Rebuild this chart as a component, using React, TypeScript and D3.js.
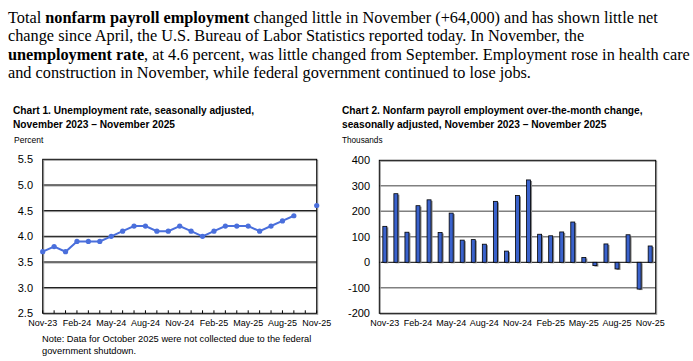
import React from 'react';
import * as d3 from 'd3';

const width = 693;
const height = 361;

const months = [
  'Nov-23', 'Dec-23', 'Jan-24', 'Feb-24', 'Mar-24', 'Apr-24', 'May-24', 'Jun-24', 'Jul-24',
  'Aug-24', 'Sep-24', 'Oct-24', 'Nov-24', 'Dec-24', 'Jan-25', 'Feb-25', 'Mar-25', 'Apr-25',
  'May-25', 'Jun-25', 'Jul-25', 'Aug-25', 'Sep-25', 'Oct-25', 'Nov-25'
];
const labelledMonths = ['Nov-23', 'Feb-24', 'May-24', 'Aug-24', 'Nov-24', 'Feb-25', 'May-25', 'Aug-25', 'Nov-25'];

// unemployment rate, percent (October 2025 not collected)
const unemploymentRate = [
  3.7, 3.8, 3.7, 3.9, 3.9, 3.9, 4.0, 4.1, 4.2, 4.2, 4.1, 4.1, 4.2,
  4.1, 4.0, 4.1, 4.2, 4.2, 4.2, 4.1, 4.2, 4.3, 4.4, null, 4.6
];
// payroll change, thousands
const payrollChange = [
  141, 269, 118, 222, 245, 117, 193, 87, 89, 71, 239, 44, 262,
  323, 110, 104, 119, 158, 19, -13, 72, -26, 108, -105, 64
];

const rateTicks = [2.5, 3.0, 3.5, 4.0, 4.5, 5.0, 5.5];
const payrollTicks = [-200, -100, 0, 100, 200, 300, 400];

const paragraph = [
  [['Total ', false], ['nonfarm payroll employment', true], [' changed little in November (+64,000) and has shown little net', false]],
  [['change since April, the U.S. Bureau of Labor Statistics reported today. In November, the', false]],
  [['unemployment rate', true], [', at 4.6 percent, was little changed from September. Employment rose in health care', false]],
  [['and construction in November, while federal government continued to lose jobs.', false]]
] as [string, boolean][][];

const sans = '"Liberation Sans", Arial, sans-serif';
const serif = '"Liberation Serif", "Times New Roman", serif';
const lineBlue = '#4a6fdc';
const barBlue = '#3a62cc';

const p1 = { left: 42.7, right: 316.7, top: 159.3, bottom: 313.3 };
const p2 = { left: 379.3, right: 655.7, top: 160.3, bottom: 313.3 };

function Chart1() {
  const x = d3.scaleLinear().domain([0, months.length - 1]).range([p1.left, p1.right]);
  const y = d3.scaleLinear().domain([2.5, 5.5]).range([p1.bottom, p1.top]);
  const pts = unemploymentRate.map((v, i) => ({ i, v }));
  const line = d3
    .line<{ i: number; v: number | null }>()
    .defined(d => d.v !== null)
    .x(d => x(d.i))
    .y(d => y(d.v as number));
  return (
    <g>
      <text x={13} y={114} fontFamily={sans} fontSize={10.2} fontWeight="bold">
        Chart 1. Unemployment rate, seasonally adjusted,
      </text>
      <text x={13} y={127.5} fontFamily={sans} fontSize={10.2} fontWeight="bold">
        November 2023 – November 2025
      </text>
      <text x={14} y={143} fontFamily={sans} fontSize={8.5}>Percent</text>
      {rateTicks.slice(1, -1).map(t => (
        <g key={t}>
          <line x1={p1.left} x2={p1.right} y1={y(t) + 1} y2={y(t) + 1} stroke="#999" />
          <line x1={p1.left} x2={p1.right} y1={y(t)} y2={y(t)} stroke="#000" />
        </g>
      ))}
      <rect x={p1.left + 1} y={p1.top + 1} width={p1.right - p1.left} height={p1.bottom - p1.top} fill="none" stroke="#999" />
      <rect x={p1.left} y={p1.top} width={p1.right - p1.left} height={p1.bottom - p1.top} fill="none" stroke="#000" />
      {months.map((m, i) => (
        <line key={m} x1={x(i)} x2={x(i)} y1={p1.bottom} y2={p1.bottom - 3} stroke="#000" />
      ))}
      {rateTicks.map(t => (
        <text key={t} x={33} y={y(t) + 4} textAnchor="end" fontFamily={sans} fontSize={11}>
          {t.toFixed(1)}
        </text>
      ))}
      {labelledMonths.map(m => (
        <text key={m} x={x(months.indexOf(m))} y={326} textAnchor="middle" fontFamily={sans} fontSize={9}>
          {m}
        </text>
      ))}
      <path d={line(pts) || ''} fill="none" stroke={lineBlue} strokeWidth={2} />
      {pts
        .filter(d => d.v !== null)
        .map(d => (
          <circle key={d.i} cx={x(d.i)} cy={y(d.v as number)} r={2.6} fill={lineBlue} />
        ))}
      <text x={42} y={341.5} fontFamily={sans} fontSize={9.3}>
        Note: Data for October 2025 were not collected due to the federal
      </text>
      <text x={42} y={353.5} fontFamily={sans} fontSize={9.3}>government shutdown.</text>
    </g>
  );
}

function Chart2() {
  const x = d3.scaleBand().domain(months).range([p2.left, p2.right]);
  const y = d3.scaleLinear().domain([-200, 400]).range([p2.bottom, p2.top]);
  const bw = 4;
  return (
    <g>
      <text x={342} y={114} fontFamily={sans} fontSize={10.2} fontWeight="bold">
        Chart 2. Nonfarm payroll employment over-the-month change,
      </text>
      <text x={342} y={127.5} fontFamily={sans} fontSize={10.2} fontWeight="bold">
        seasonally adjusted, November 2023 – November 2025
      </text>
      <text x={342} y={143} fontFamily={sans} fontSize={8.2}>Thousands</text>
      {payrollTicks.slice(1, -1).map(t => (
        <line key={t} x1={p2.left} x2={p2.right} y1={y(t)} y2={y(t)} stroke={t === 0 ? '#000' : '#808080'} strokeWidth={t === 0 ? 1 : 1.5} />
      ))}
      <rect x={p2.left + 1} y={p2.top + 1} width={p2.right - p2.left} height={p2.bottom - p2.top} fill="none" stroke="#999" />
      <rect x={p2.left} y={p2.top} width={p2.right - p2.left} height={p2.bottom - p2.top} fill="none" stroke="#000" />
      {payrollChange.map((v, i) => {
        const cx = (x(months[i]) as number) + x.bandwidth() / 2;
        const top = Math.min(y(v), y(0));
        const h = Math.abs(y(v) - y(0));
        return (
          <g key={months[i]}>
            <rect x={cx - bw / 2 + 1.5} y={top + 1} width={bw} height={h} fill="#888" />
            <rect x={cx - bw / 2} y={top} width={bw} height={h} fill={barBlue} stroke="#000" strokeWidth={0.8} />
          </g>
        );
      })}
      {payrollTicks.map(t => (
        <text key={t} x={370} y={y(t) + 4} textAnchor="end" fontFamily={sans} fontSize={11}>
          {t}
        </text>
      ))}
      {labelledMonths.map(m => (
        <text key={m} x={(x(m) as number) + x.bandwidth() / 2} y={326} textAnchor="middle" fontFamily={sans} fontSize={9}>
          {m}
        </text>
      ))}
    </g>
  );
}

export default function App() {
  return (
    <svg width={width} height={height} style={{ position: 'absolute', left: 0, top: 0, background: '#fff' }}>
      {paragraph.map((parts, li) => (
        <text key={li} x={8} y={23 + li * 18.3} fontFamily={serif} fontSize={16.3}>
          {parts.map(([s, b], k) => (
            <tspan key={k} fontWeight={b ? 'bold' : 'normal'}>{s}</tspan>
          ))}
        </text>
      ))}
      <Chart1 />
      <Chart2 />
    </svg>
  );
}
